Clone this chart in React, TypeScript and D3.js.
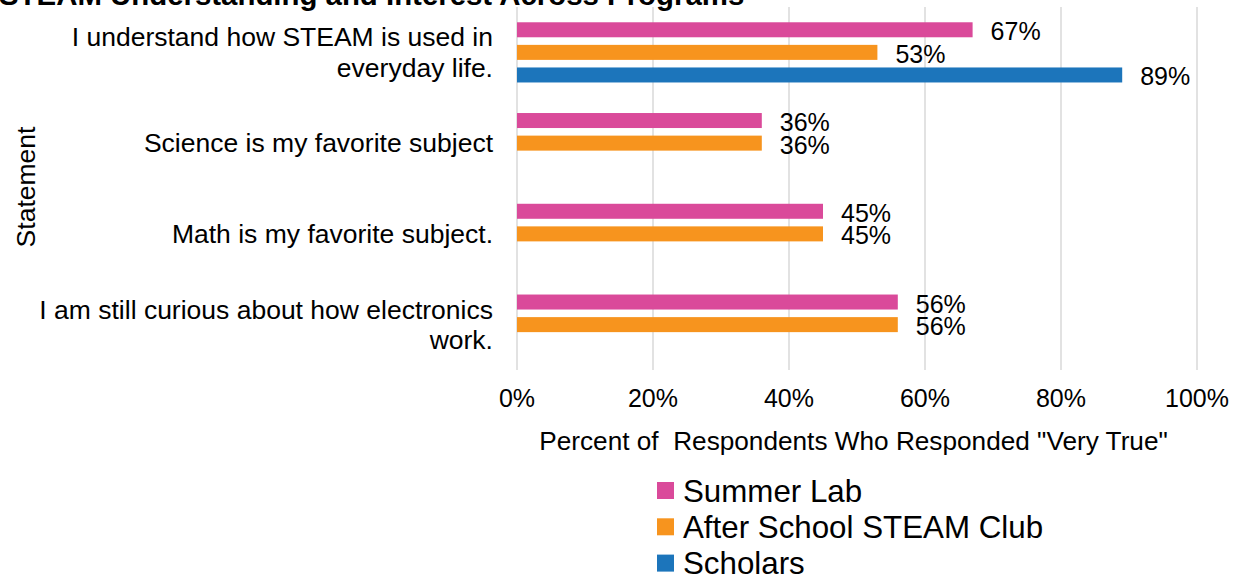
import React from "react";
import * as d3 from "d3";

const categories = [
  ["I understand how STEAM is used in", "everyday life."],
  ["Science is my favorite subject"],
  ["Math is my favorite subject."],
  ["I am still curious about how electronics", "work."],
];
const seriesNames = ["Summer Lab", "After School STEAM Club", "Scholars"];
const seriesColors = ["#da4a9a", "#f7941e", "#1c75bb"];
const summerLab = [67, 36, 45, 56];
const afterSchool = [53, 36, 45, 56];
const scholars: (number | null)[] = [89, null, null, null];
const xTicks = [0, 20, 40, 60, 80, 100];

const W = 1239;
const H = 575;
const FONT = "'Liberation Sans', Arial, sans-serif";

export default function App() {
  const left = 517;
  const right = 1197;
  const top = 7;
  const bottom = 370;
  const x = d3.scaleLinear().domain([0, 100]).range([left, right]);
  const catIdx = categories.map((_, i) => String(i));
  const y = d3.scaleBand().domain(catIdx).range([top, bottom]);
  const inner = d3
    .scaleBand()
    .domain(seriesNames)
    .range([0, y.bandwidth()])
    .paddingInner(0.336)
    .paddingOuter(0.676);
  const values = [summerLab, afterSchool, scholars];

  return (
    <svg
      width={W}
      height={H}
      style={{ position: "absolute", left: 0, top: 0, background: "#fff" }}
      fontFamily={FONT}
    >
      <text x={-1} y={5} fontSize={29.4} fontWeight="bold" fill="#000">
        STEAM Understanding and Interest Across Programs
      </text>
      {xTicks.map((t) => (
        <g key={t}>
          <line x1={x(t)} x2={x(t)} y1={top} y2={bottom} stroke="#d9d9d9" strokeWidth={1.5} />
          <text x={x(t)} y={407} textAnchor="middle" fontSize={25} fill="#000">
            {t}%
          </text>
        </g>
      ))}
      {categories.map((lines, ci) => {
        const cy = (y(String(ci)) as number) + y.bandwidth() / 2;
        const lh = 30.5;
        const y0 = cy - ((lines.length - 1) * lh) / 2;
        return (
          <text key={ci} textAnchor="end" fontSize={26.5} fill="#000">
            {lines.map((l, li) => (
              <tspan key={li} x={493} y={y0 + li * lh + 9.3}>
                {l}
              </tspan>
            ))}
          </text>
        );
      })}
      {values.map((vals, si) =>
        vals.map((v, ci) => {
          if (v === null) return null;
          const by = (y(String(ci)) as number) + (inner(seriesNames[si]) as number);
          return (
            <g key={`${si}-${ci}`}>
              <rect
                x={x(0)}
                y={by}
                width={x(v) - x(0)}
                height={inner.bandwidth()}
                fill={seriesColors[si]}
              />
              <text
                x={x(v) + 18}
                y={by + inner.bandwidth() / 2 + 10.5}
                fontSize={25}
                fill="#000"
              >
                {v}%
              </text>
            </g>
          );
        })
      )}
      <text
        transform={`translate(35,${187}) rotate(-90)`}
        textAnchor="middle"
        fontSize={26.5}
        fill="#000"
      >
        Statement
      </text>
      <text x={(537 + 1170) / 2} y={450} textAnchor="middle" fontSize={26.2} fill="#000">
        Percent of{"\u00a0\u00a0"}Respondents Who Responded "Very True"
      </text>
      {seriesNames.map((s, i) => {
        const cy = 490.5 + i * 36.3;
        return (
          <g key={s}>
            <rect x={657} y={cy - 8.5} width={17} height={17} fill={seriesColors[i]} />
            <text x={683} y={cy + 11} fontSize={31.3} fill="#000">
              {s}
            </text>
          </g>
        );
      })}
    </svg>
  );
}
